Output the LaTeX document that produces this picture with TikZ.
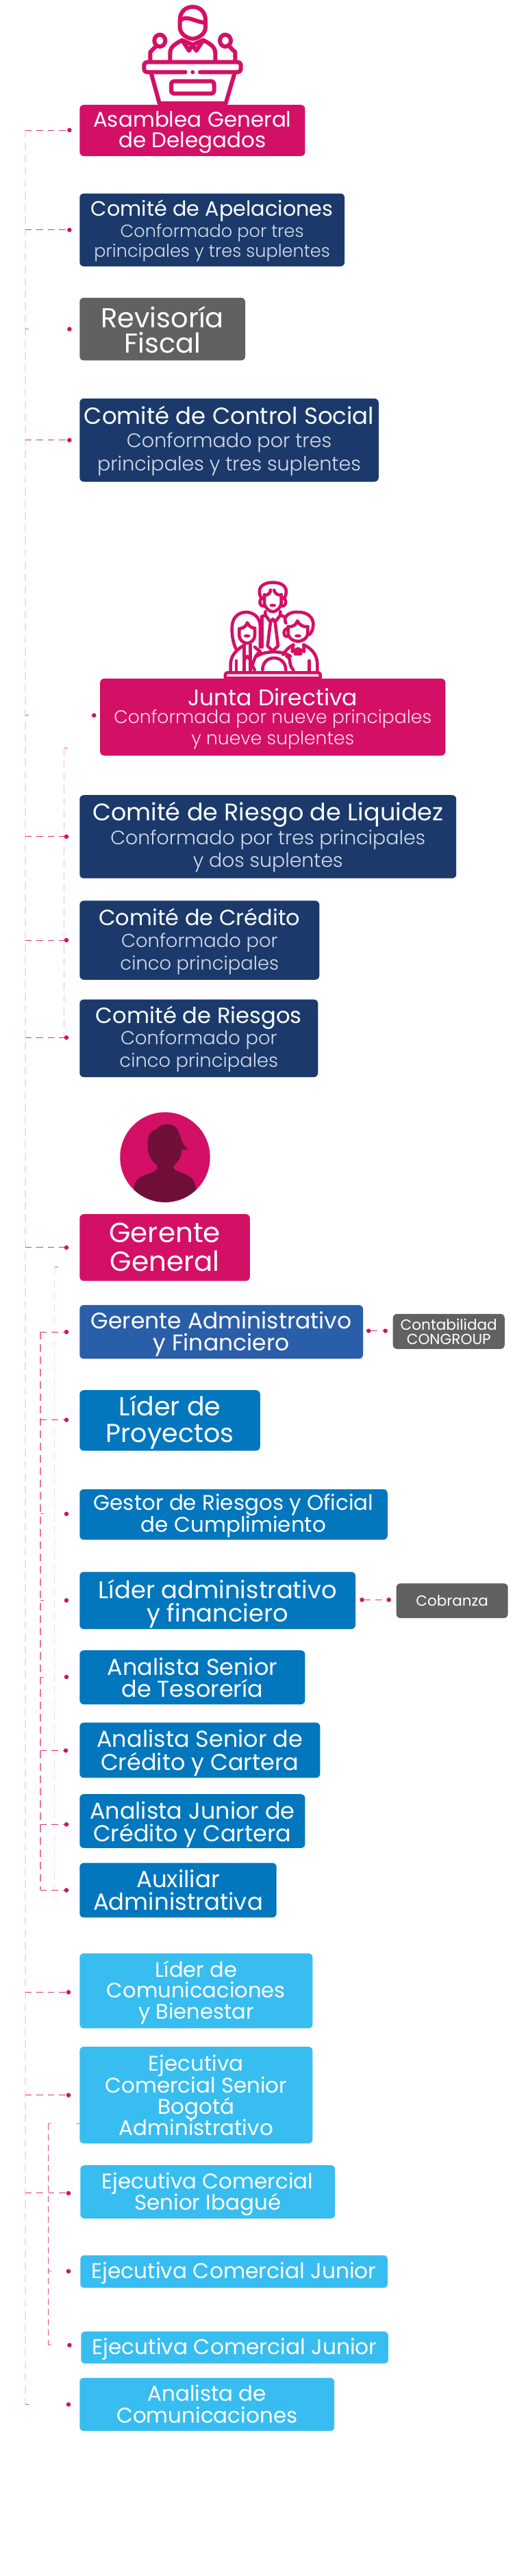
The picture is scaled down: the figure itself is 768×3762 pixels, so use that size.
\documentclass[tikz,border=0pt]{standalone}
\usepackage{fontspec}
\setmainfont{Poppins}
\newfontfamily\popl{Poppins Light}
\usetikzlibrary{calc}
\definecolor{mag}{HTML}{D31066}
\definecolor{navy}{HTML}{1B3A6B}
\definecolor{gris}{HTML}{616161}
\definecolor{azulm}{HTML}{2A5EA8}
\definecolor{azul}{HTML}{0277BD}
\definecolor{cielo}{HTML}{38BDF0}
\definecolor{vino}{HTML}{701038}
\definecolor{pale}{HTML}{F9D9E6}
\definecolor{midl}{HTML}{F4BCD2}
\definecolor{midp}{HTML}{F0709F}
\definecolor{subn}{HTML}{D5DCE8}
\definecolor{subm}{HTML}{F9DCE8}
\newcommand{\fs}[2]{\fontsize{#1}{#2}\selectfont}
% one text line: size, centre y in picture px, text
\newcommand{\tl}[3]{\pgfmathsetmacro\ky{#2+0.34*#1-\byt}%
  \vbox to 0pt{\kern\ky pt\hbox to\hsize{\hss\smash{\fs{#1}{#1}#3}\hss}\vss}\nointerlineskip}
\newcommand{\ts}[4]{\pgfmathsetmacro\ky{#3+0.34*#2-\byt}%
  \vbox to 0pt{\kern\ky pt\hbox to\hsize{\hss\smash{\popl\color{#1}\fs{#2}{#2}#4}\hss}\vss}\nointerlineskip}
\newcommand{\bx}[7]{%
  \pgfmathsetmacro\bw{#4-#2}\pgfmathsetmacro\bh{#5-#3}%
  \pgfmathsetmacro\cx{(#2+#4)/2}\pgfmathsetmacro\cy{(#3+#5)/2}\def\byt{#3}%
  \node[box,#6,minimum width=\bw pt,minimum height=\bh pt] (#1) at (\cx,\cy) {\vbox to\bh pt{\hsize=\bw pt\nointerlineskip #7\vss}};}
\newcommand{\dt}[3]{\node[dotn] (#1) at (#2,#3) {};}
\tikzset{
  box/.style={draw=none,rounded corners=6pt,inner sep=0pt,outer sep=0pt,text=white,anchor=center},
  fmag/.style={fill=mag}, fnavy/.style={fill=navy}, fgris/.style={fill=gris},
  fazulm/.style={fill=azulm}, fazul/.style={fill=azul}, fcielo/.style={fill=cielo},
  dotn/.style={circle,fill=mag,inner sep=0pt,minimum size=6.5pt,outer sep=0pt},
  mainspine/.style={draw=pale,line width=2pt,dash pattern=on 11pt off 7pt},
  sidespine/.style={draw=midl,line width=1.3pt,dash pattern=on 11pt off 7pt},
  sidespinec/.style={draw=pale,line width=1.5pt,dash pattern=on 11pt off 7pt},
  redspine/.style={draw=midp,line width=1.6pt,dash pattern=on 11pt off 7pt},
  thinspine/.style={draw=mag!75,line width=1pt,dash pattern=on 9pt off 6pt},
  branch/.style={draw=mag!85,line width=1pt,dash pattern=on 9.5pt off 7pt},
  stub/.style={draw=mag!70,line width=1pt,dash pattern=on 5pt off 200pt},
  stubtwo/.style={draw=mag!60,line width=1pt,dash pattern=on 5pt off 36pt on 6pt off 50pt},
  icon/.style={draw=mag,line width=6pt,line cap=round,line join=round},
  iconb/.style={draw=mag,line width=4.6pt,line cap=round,line join=round},
}
\begin{document}
\begin{tikzpicture}[x=1pt,y=-1pt]
\useasboundingbox (0,0) rectangle (768,3762);
\fill[white] (0,0) rectangle (768,3762);

% ---- spines
\coordinate (sA) at (36.8,190); \coordinate (sAend) at (36.8,3511.4);
\coordinate (sB) at (93.5,1092.5); \coordinate (sBend) at (93.5,1515.3);
\coordinate (sC) at (79.5,1850.7); \coordinate (sCend) at (79.5,2760.4);
\coordinate (sD) at (58.7,1945.2); \coordinate (sDend) at (58.7,2760.4);
\coordinate (sE) at (70.1,3101.5); \coordinate (sEend) at (70.1,3424.8);
\draw[mainspine] (sA) -- (sAend);
\draw[sidespine] (sB) -- (sBend);
\draw[sidespinec] (sC) -- (sCend);
\draw[redspine] (sD) -- (sDend);
\draw[thinspine] (sE) -- (sEend);

% ---- boxes
\bx{asamblea}{116.3}{153.2}{445.4}{227.9}{fmag}{\tl{31}{174.5}{Asamblea General}\tl{31}{205.3}{de Delegados}}
\bx{apel}{116.3}{282.6}{503.1}{389}{fnavy}{\tl{30.3}{305.5}{Comité de Apelaciones}\ts{subn}{25.6}{337.3}{Conformado por tres}\ts{subn}{25.6}{367.2}{principales y tres suplentes}}
\bx{revis}{116.3}{434.8}{358}{526.4}{fgris}{\tl{40}{464.7}{Revisoría}\tl{40}{501.5}{Fiscal}}
\bx{control}{116.3}{582}{552.8}{703.5}{fnavy}{\tl{34}{608}{Comité de Control Social}\ts{subn}{28.6}{643.8}{Conformado por tres}\ts{subn}{28.6}{677.6}{principales y tres suplentes}}
\bx{junta}{146.2}{991}{650.3}{1103.5}{fmag}{\tl{33}{1019.4}{Junta Directiva}\ts{subm}{26.6}{1047.7}{Conformada por nueve principales}\ts{subm}{26.6}{1078.6}{y nueve suplentes}}
\bx{liquidez}{116.3}{1161.2}{666.2}{1282.7}{fnavy}{\tl{35}{1187}{Comité de Riesgo de Liquidez}\ts{subn}{28.4}{1223.8}{Conformado por tres principales}\ts{subn}{28.4}{1256.7}{y dos suplentes}}
\bx{credito}{116.3}{1315.4}{466.3}{1430.8}{fnavy}{\tl{32}{1341}{Comité de Crédito}\ts{subn}{27.4}{1373.9}{Conformado por}\ts{subn}{27.4}{1406.8}{cinco principales}}
\bx{riesgos}{116.3}{1459.6}{464.3}{1573}{fnavy}{\tl{32.2}{1483.4}{Comité de Riesgos}\ts{subn}{27.4}{1516.2}{Conformado por}\ts{subn}{27.4}{1549}{cinco principales}}
\bx{gerente}{116.3}{1773.1}{364.9}{1870.6}{fmag}{\tl{40.5}{1801}{Gerente}\tl{40.5}{1842.8}{General}}
\bx{gteadm}{116.3}{1905.9}{530}{1984.4}{fazulm}{\tl{33}{1929.4}{Gerente Administrativo}\tl{33}{1961.2}{y Financiero}}
\bx{conta}{573.7}{1918.9}{736.8}{1970}{fgris}{\tl{21.6}{1935}{Contabilidad}\tl{21.6}{1956}{CONGROUP}}
\bx{proyectos}{116.3}{2030.2}{379.8}{2118.6}{fazul}{\tl{38}{2054.8}{Líder de}\tl{38}{2093.6}{Proyectos}}
\bx{gestor}{116.3}{2174.9}{565.8}{2248.6}{fazul}{\tl{31}{2194.9}{Gestor de Riesgos y Oficial}\tl{31}{2226.7}{de Cumplimiento}}
\bx{lideradm}{116.3}{2295.5}{519}{2379}{fazul}{\tl{35.3}{2322.3}{Líder administrativo}\tl{35.3}{2356.2}{y financiero}}
\bx{cobranza}{578.7}{2312.4}{741.7}{2363.1}{fgris}{\tl{21.5}{2337.8}{Cobranza}}
\bx{tesor}{116.3}{2410.2}{445.4}{2489}{fazul}{\tl{33.5}{2435}{Analista Senior}\tl{33.5}{2467}{de Tesorería}}
\bx{srcred}{116.3}{2515.7}{467.3}{2596.3}{fazul}{\tl{33.5}{2540.5}{Analista Senior de}\tl{33.5}{2574.4}{Crédito y Cartera}}
\bx{jrcred}{116.3}{2620.2}{445.4}{2698.8}{fazul}{\tl{33.5}{2645}{Analista Junior de}\tl{33.5}{2677.9}{Crédito y Cartera}}
\bx{auxil}{116.3}{2720.6}{403.7}{2800.3}{fazul}{\tl{34}{2744.5}{Auxiliar}\tl{34}{2778.4}{Administrativa}}
\bx{lidcom}{116.3}{2852.7}{456.4}{2962.2}{fcielo}{\tl{30.6}{2876.6}{Líder de}\tl{30.6}{2907.5}{Comunicaciones}\tl{30.6}{2938.3}{y Bienestar}}
\bx{bogota}{116.3}{2989}{456.4}{3130.3}{fcielo}{\tl{31}{3014}{Ejecutiva}\tl{31}{3045.7}{Comercial Senior}\tl{31}{3076.6}{Bogotá}\tl{31}{3108.4}{Administrativo}}
\bx{ibague}{117.3}{3162.1}{489.2}{3239.8}{fcielo}{\tl{31}{3186}{Ejecutiva Comercial}\tl{31}{3216.9}{Senior Ibagué}}
\bx{jrone}{117.3}{3293.5}{565.8}{3341.2}{fcielo}{\tl{31.3}{3317.3}{Ejecutiva Comercial Junior}}
\bx{jrtwo}{118.3}{3404.9}{566.8}{3451.7}{fcielo}{\tl{31.3}{3427.7}{Ejecutiva Comercial Junior}}
\bx{ancom}{116.3}{3472.6}{488.2}{3550.2}{fcielo}{\tl{31}{3496.4}{Analista de}\tl{31}{3528.2}{Comunicaciones}}

% ---- dots
\dt{d1}{101.4}{190}\dt{d2}{101.4}{335.8}\dt{d3}{101.4}{480.6}\dt{d4}{101.4}{642.8}
\dt{d5}{137.2}{1044.7}\dt{d6}{97}{1221.8}\dt{d7}{97}{1373}\dt{d8}{97}{1515.3}
\dt{d9}{97}{1821.9}\dt{d10}{97}{1945.2}\dt{d11}{97}{2073.6}\dt{d12}{97}{2210.9}
\dt{d13}{97}{2337.2}\dt{d14}{97}{2449}\dt{d15}{96}{2556.5}\dt{d16}{97}{2664.4}
\dt{d17}{97}{2760.4}\dt{d18}{100}{2909.4}\dt{d19}{100}{3059.7}\dt{d20}{100}{3202.9}
\dt{d21}{100}{3316.9}\dt{d22}{101.4}{3424.8}\dt{d23}{100}{3511.4}
\dt{r1}{538.2}{1943.5}\dt{r2}{562.7}{1943.5}\dt{r3}{528.5}{2336.3}\dt{r4}{567.7}{2336.3}

% ---- branches
\foreach \d in {d1,d2,d4,d6,d7,d8,d9,d18,d19,d20}{\draw[branch] (sA |- \d) -- (\d);}
\foreach \d in {d3,d5,d23}{\draw[stub] (sA |- \d) -- (\d);}
\foreach \d in {d10,d11,d15,d16,d17}{\draw[branch] (sD |- \d) -- (\d);}
\foreach \d in {d12,d13,d14}{\draw[stub] (sD |- \d) -- (\d);}
\foreach \d in {d21,d22}{\draw[stub] (sE |- \d) -- (\d);}
\draw[stub] (sB) -- +(7,0);
\draw[stub] (sC) -- +(6,0);
\draw[stubtwo] (sE) -- (bogota.west |- sE);
\draw[branch] (r1) -- (r2);
\draw[branch] (r3) -- (r4);

% ---- podium icon (crop coordinates, 1/3 px)
\begin{scope}[shift={(180,0)},x=0.33333pt,y=-0.33333pt]
  \draw[icon] (248,120) -- (248,88) .. controls (248,50) and (275,30) .. (304,30)
     .. controls (333,30) and (360,50) .. (360,88) -- (360,120)
     .. controls (360,150) and (325,170) .. (304,170) .. controls (283,170) and (248,150) .. (248,120);
  \draw[icon] (248,92) .. controls (275,62) and (310,95) .. (360,100);
  \draw[icon] (205,268) -- (205,232) .. controls (205,205) and (230,190) .. (258,176)
     -- (288,222) -- (304,196) -- (320,222) -- (350,176)
     .. controls (378,190) and (403,205) .. (403,232) -- (403,268);
  \draw[icon] (258,176) -- (304,196) -- (350,176);
  \draw[icon] (160,178) ellipse [x radius=24,y radius=26];
  \draw[icon] (447,178) ellipse [x radius=24,y radius=26];
  \draw[icon] (140,206) -- (118,228) -- (118,268);
  \draw[icon] (467,206) -- (490,228) -- (490,268);
  \draw[icon] (272,316) -- (104,316) .. controls (96,316) and (91,310) .. (91,303)
     -- (91,285) .. controls (91,278) and (96,272) .. (104,272) -- (502,272)
     .. controls (510,272) and (515,278) .. (515,285) -- (515,303)
     .. controls (515,310) and (510,316) .. (502,316) -- (336,316);
  \fill[mag] (304,316) circle (9);
  \draw[icon] (122,320) -- (158,452);
  \draw[icon] (488,320) -- (449,452);
  \draw[icon,rounded corners=4pt] (210,356) rectangle (398,410);
  \fill[mag] (155,445) rectangle (452,462);
\end{scope}

% ---- board icon
\begin{scope}[shift={(300,830)},x=0.33333pt,y=-0.33333pt]
  \draw[iconb] (244,130) .. controls (225,95) and (240,62) .. (295,62)
     .. controls (350,62) and (365,95) .. (346,130);
  \draw[iconb] (258,115) -- (258,150) .. controls (258,172) and (280,190) .. (295,190)
     .. controls (310,190) and (332,172) .. (332,150) -- (332,115);
  \draw[iconb] (258,118) .. controls (275,118) and (285,108) .. (285,95);
  \draw[iconb] (300,95) .. controls (305,112) and (320,120) .. (332,116);
  \draw[iconb] (258,130) .. controls (232,125) and (232,170) .. (258,165);
  \draw[iconb] (332,130) .. controls (358,125) and (358,170) .. (332,165);
  \fill[mag] (295,162) ellipse [x radius=15,y radius=7];
  \draw[iconb] (262,190) -- (262,205) -- (245,212);
  \draw[iconb] (328,190) -- (328,205) -- (345,212);
  \draw[iconb] (262,205) -- (285,235) -- (295,222) -- (305,235) -- (328,205);
  \draw[iconb] (285,235) -- (272,340) -- (295,362) -- (318,340) -- (305,235);
  \draw[iconb] (248,215) -- (248,345);
  \draw[iconb] (132,350) .. controls (115,310) and (115,270) .. (117,250)
     .. controls (120,210) and (150,192) .. (178,192)
     .. controls (210,192) and (240,215) .. (240,255) -- (240,345);
  \draw[iconb] (148,265) -- (148,295) .. controls (148,312) and (165,328) .. (182,328)
     .. controls (199,328) and (216,312) .. (216,295) -- (216,262);
  \draw[iconb] (148,265) .. controls (165,262) and (178,255) .. (183,238)
     .. controls (190,255) and (205,262) .. (216,262);
  \fill[mag] (182,296) ellipse [x radius=15,y radius=7];
  \draw[iconb] (110,450) -- (110,420) .. controls (110,385) and (135,355) .. (168,338);
  \draw[iconb] (170,335) -- (170,450);
  \draw[iconb] (196,335) -- (196,450);
  \draw[iconb] (135,405) -- (135,448);
  \draw[iconb] (170,400) -- (183,385) -- (196,400);
  \draw[iconb] (216,345) -- (240,365) .. controls (222,375) and (215,395) .. (205,425) -- (215,445);
  \draw[iconb] (352,240) .. controls (335,205) and (380,188) .. (405,192)
     .. controls (445,190) and (475,215) .. (472,250) .. controls (470,270) and (465,280) .. (455,290);
  \draw[iconb] (362,255) -- (362,285) .. controls (362,305) and (385,320) .. (405,320)
     .. controls (425,320) and (448,305) .. (448,285) -- (448,255);
  \draw[iconb] (362,255) .. controls (385,258) and (398,245) .. (403,230)
     .. controls (412,250) and (430,258) .. (448,255);
  \draw[iconb] (362,265) .. controls (338,260) and (338,305) .. (362,298);
  \fill[mag] (405,296) ellipse [x radius=15,y radius=7];
  \draw[iconb] (340,378) .. controls (350,360) and (365,345) .. (385,335);
  \draw[iconb] (430,335) .. controls (465,350) and (490,380) .. (490,420) -- (490,450);
  \draw[iconb] (385,335) -- (380,365) -- (405,352) -- (432,365) -- (430,335);
  \draw[iconb] (405,352) -- (392,375) -- (418,375) -- (405,352);
  \draw[iconb] (455,405) -- (455,448);
  \draw[iconb] (355,385) .. controls (380,395) and (360,420) .. (385,445);
  \draw[iconb] (225,385) .. controls (260,360) and (340,360) .. (372,385);
  \draw[iconb] (250,445) .. controls (250,375) and (350,375) .. (352,445);
  \draw[iconb,rounded corners=3pt] (87,486) -- (87,457) -- (503,457) -- (503,486);
  \fill[mag] (82,473) rectangle (510,488);
\end{scope}

% ---- portrait
\begin{scope}[shift={(150,1600)},x=0.33333pt,y=-0.33333pt]
  \node[circle,fill=mag,inner sep=0pt,minimum size=131.5pt] (portrait) at (273,270) {};
  \begin{scope}
    \clip (273,270) circle [radius=197];
    \fill[vino] (235,148) .. controls (250,120) and (310,115) .. (330,150)
      .. controls (345,185) and (345,215) .. (375,235) -- (345,238)
      .. controls (348,275) and (325,290) .. (310,310) .. controls (310,322) and (318,328) .. (330,332)
      .. controls (370,348) and (400,350) .. (410,410) -- (410,480) -- (135,480) -- (137,400)
      .. controls (145,350) and (190,350) .. (225,332) .. controls (240,325) and (240,315) .. (238,306)
      .. controls (205,280) and (195,255) .. (197,200) .. controls (198,170) and (212,152) .. (235,148) -- cycle;
  \end{scope}
\end{scope}
\end{tikzpicture}
\end{document}
